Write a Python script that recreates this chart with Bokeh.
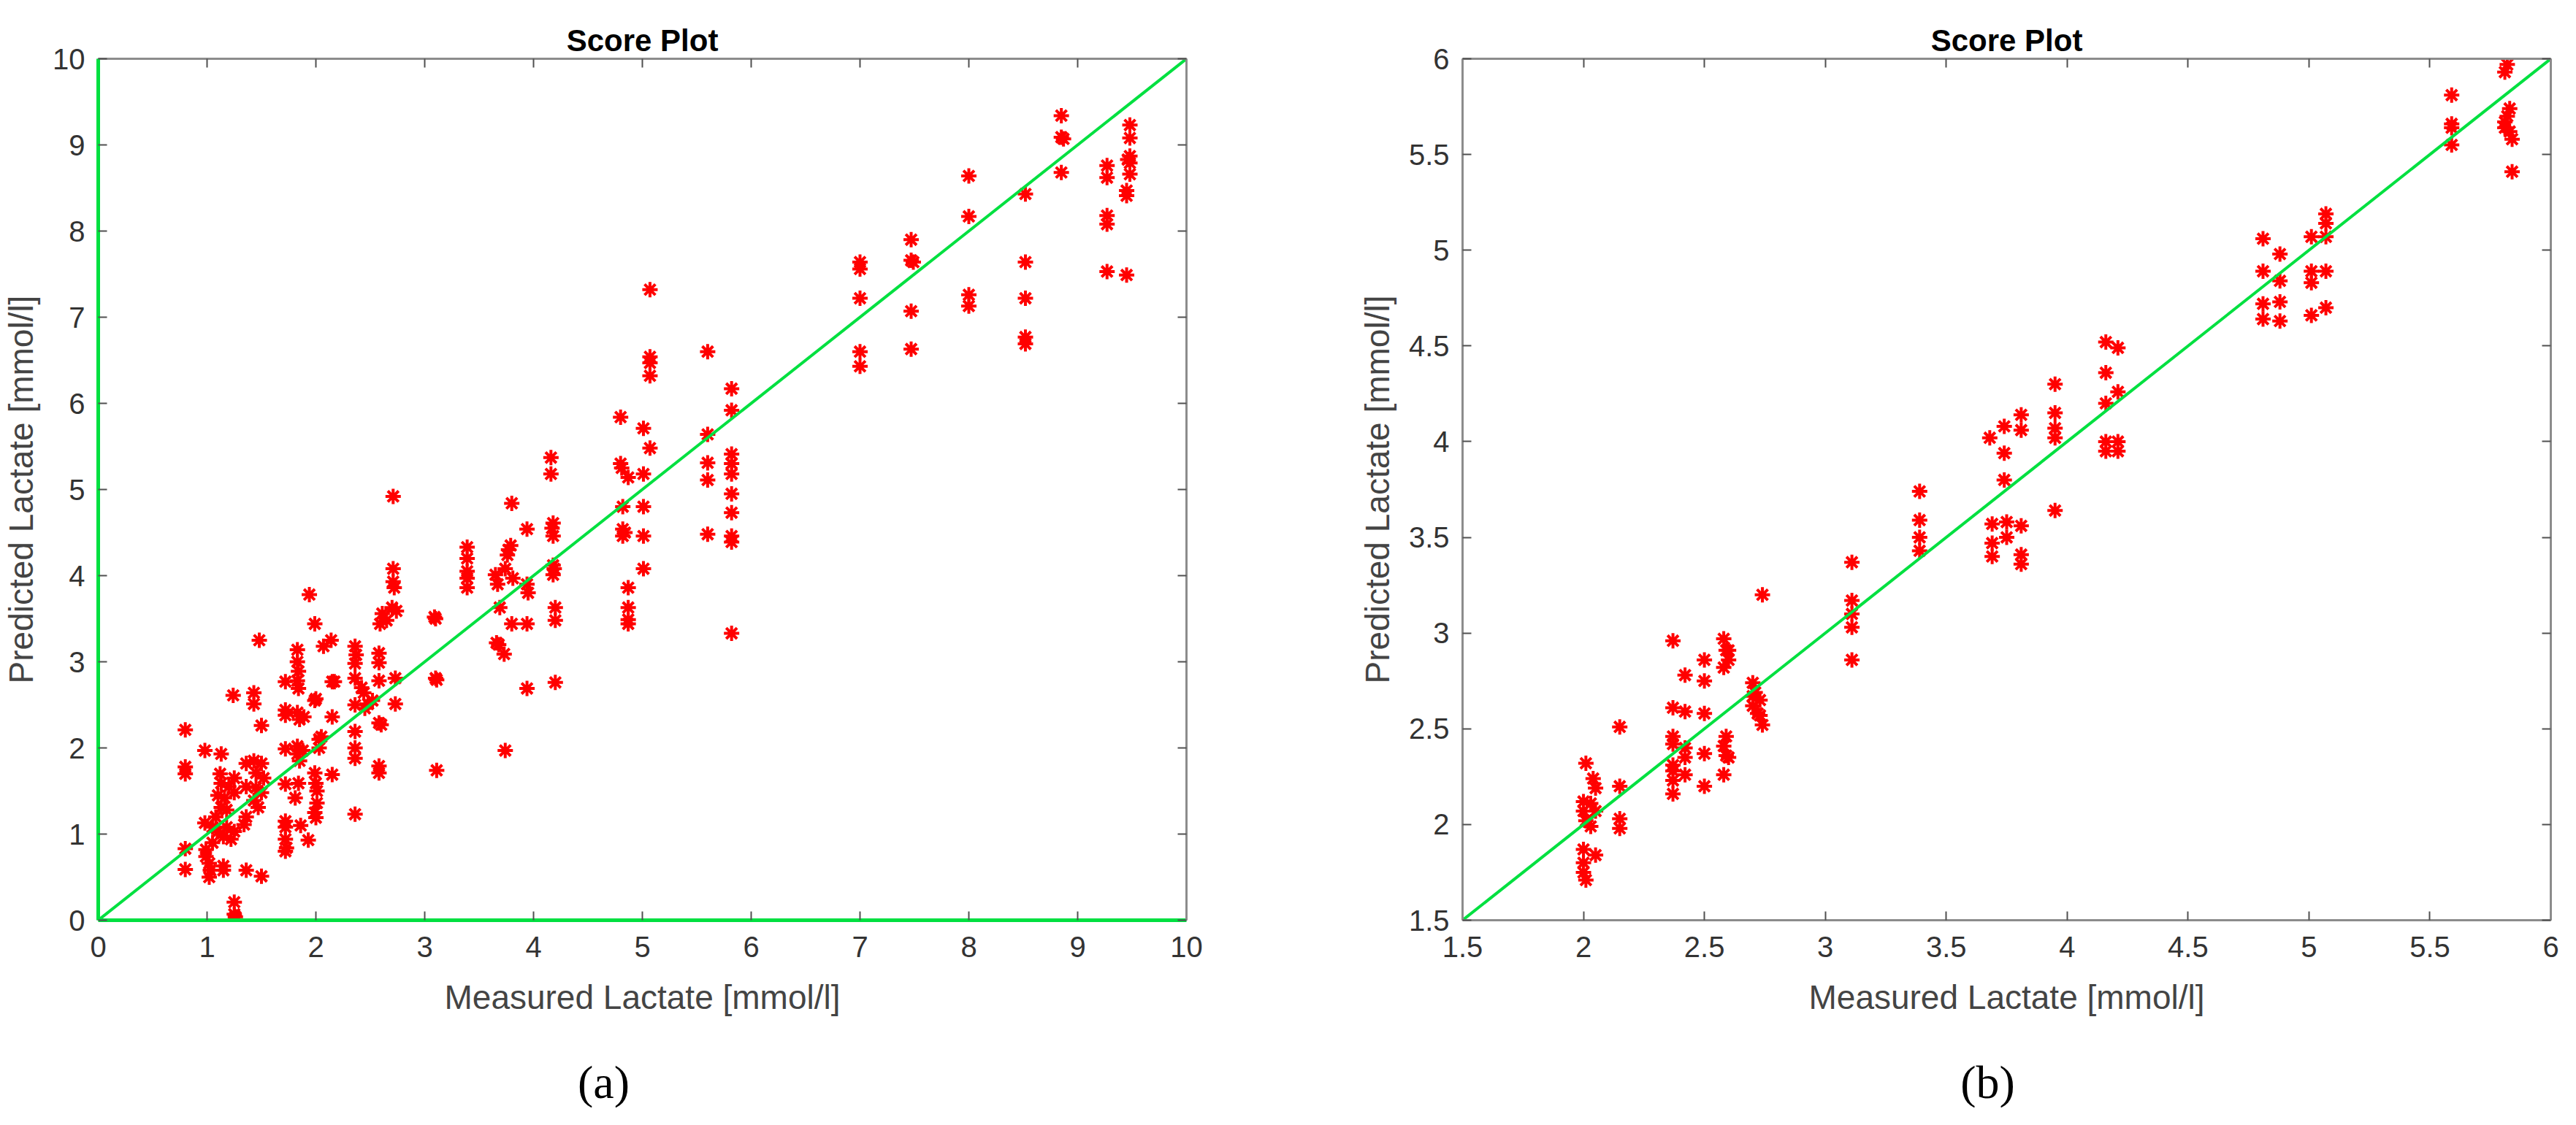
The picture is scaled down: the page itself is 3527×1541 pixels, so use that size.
from bokeh.plotting import figure
from bokeh.models import Range1d, FixedTicker, LinearAxis, Label, NumeralTickFormatter, Title
from bokeh.layouts import row, column
from bokeh.embed import file_html
from bokeh.resources import INLINE

# ---------------- data ----------------
measured_a = [
    0.80, 0.80, 0.80, 0.80, 0.80,
    0.98, 0.98, 1.13, 1.12, 1.13, 1.10, 1.13, 1.05, 1.10, 1.15, 0.99, 0.99, 1.02, 1.02,
    1.15, 1.15, 1.18, 1.18, 1.16, 1.24, 1.25, 1.25, 1.25, 1.22, 1.25, 1.25, 1.26,
    1.05, 1.08, 1.20, 1.03,
    1.43, 1.43, 1.50, 1.48, 1.36, 1.43, 1.50, 1.45, 1.52, 1.36, 1.45, 1.50, 1.43, 1.47,
    1.36, 1.34, 1.36, 1.50,
    1.72, 1.72, 1.72, 1.72, 1.72, 1.72, 1.72, 1.72, 1.72, 1.73,
    1.83, 1.83, 1.84, 1.83, 1.84, 1.83, 1.85, 1.83, 1.83, 1.85, 1.84, 1.81, 1.86, 1.89, 1.88,
    1.94, 1.99, 2.07, 2.14, 1.99, 2.03, 2.03, 1.99, 2.00, 2.01, 2.01, 1.99, 2.00, 1.93,
    2.15, 2.15, 2.15, 2.00, 2.05, 2.17,
    2.36, 2.36, 2.36, 2.36, 2.36, 2.36, 2.36, 2.36, 2.37,
    2.44, 2.48, 2.45, 2.52, 2.42,
    2.58, 2.58, 2.58, 2.58, 2.58, 2.58, 2.60, 2.59, 2.61, 2.65,
    2.71, 2.71, 2.71, 2.72, 2.70, 2.74, 2.73, 2.73,
    3.09, 3.10, 3.11, 3.10, 3.11,
    3.39, 3.39, 3.39, 3.39, 3.39,
    3.65, 3.67, 3.69, 3.68, 3.73, 3.74, 3.74, 3.76, 3.79, 3.80, 3.81, 3.80, 3.66, 3.77,
    3.94, 3.94, 3.94, 3.94, 3.95,
    4.16, 4.16, 4.18, 4.18, 4.18, 4.18, 4.20, 4.20, 4.20, 4.17, 4.19,
    4.80, 4.80, 4.82, 4.82, 4.82, 4.87, 4.87, 4.87, 4.87, 4.87, 4.81, 4.84,
    5.01, 5.01, 5.01, 5.01, 5.01, 5.07, 5.07, 5.07, 5.07, 5.07,
    5.60, 5.60, 5.60, 5.60, 5.60,
    5.82, 5.82, 5.82, 5.82, 5.82, 5.82, 5.82, 5.82, 5.82, 5.82,
    7.00, 7.00, 7.00, 7.00, 7.00,
    7.47, 7.47, 7.49, 7.47, 7.47,
    8.00, 8.00, 8.00, 8.00,
    8.52, 8.52, 8.52, 8.52, 8.52,
    8.85, 8.85, 8.85, 8.87,
    9.27, 9.27, 9.27, 9.27, 9.27,
    9.48, 9.48, 9.48, 9.48, 9.48, 9.45, 9.45, 9.45, 9.46,
]
predicted_a = [
    2.21, 1.78, 1.70, 0.83, 0.59,
    1.97, 1.13, 1.93, 1.70, 1.59, 1.45, 1.31, 1.08, 1.03, 0.97, 0.82, 0.74, 0.66, 0.50,
    0.63, 0.58, 1.08, 1.28, 1.42, 2.61, 1.65, 1.48, 1.03, 0.94, 0.21, 0.07, 0.04,
    0.90, 1.20, 1.55, 0.58,
    2.64, 2.51, 2.26, 3.25, 1.82, 1.85, 1.82, 1.71, 1.65, 1.55, 1.54, 1.48, 1.39, 1.31,
    1.20, 1.11, 0.58, 0.51,
    2.77, 2.44, 2.38, 1.99, 1.58, 1.15, 1.08, 0.94, 0.80, 0.84,
    3.14, 3.00, 2.89, 2.78, 2.69, 2.41, 2.33, 2.02, 1.93, 1.85, 1.59, 1.42, 1.10, 2.36, 1.97,
    3.78, 3.44, 3.18, 3.25, 2.55, 2.10, 2.00, 1.71, 1.59, 1.50, 1.36, 1.25, 1.19, 0.93,
    2.77, 2.36, 1.69, 2.57, 2.13, 2.77,
    2.98, 2.81, 2.50, 2.19, 2.00, 1.88, 1.23, 3.18, 3.08,
    2.64, 2.51, 2.46, 2.55, 2.70,
    2.99, 2.78, 2.29, 1.79, 1.71, 3.10, 2.27, 3.44, 3.56, 3.48,
    4.92, 4.08, 3.93, 3.86, 3.63, 3.59, 2.81, 2.51,
    3.52, 3.50, 2.79, 2.81, 1.74,
    4.33, 4.20, 4.05, 3.97, 3.86,
    4.01, 3.90, 3.63, 3.20, 3.09, 1.97, 4.08, 4.24, 4.35, 4.84, 3.97, 3.44, 3.22, 4.30,
    4.54, 3.90, 3.44, 2.69, 3.80,
    5.37, 5.18, 4.61, 4.46, 4.12, 4.01, 3.63, 3.48, 2.76, 4.55, 4.08,
    5.84, 5.30, 4.80, 4.54, 4.46, 5.14, 3.86, 3.63, 3.49, 3.44, 5.25, 4.50,
    5.71, 5.18, 4.80, 4.46, 4.08, 7.32, 6.54, 6.47, 6.32, 5.48,
    6.60, 5.64, 5.31, 5.11, 4.48,
    6.17, 5.92, 5.41, 5.30, 5.18, 4.95, 4.73, 4.46, 4.39, 3.33,
    7.64, 7.56, 7.22, 6.60, 6.43,
    7.90, 7.66, 7.64, 7.07, 6.63,
    8.64, 8.17, 7.26, 7.13,
    8.43, 7.64, 7.22, 6.77, 6.69,
    9.34, 9.09, 8.68, 9.07,
    8.76, 8.62, 8.18, 8.08, 7.53,
    9.23, 9.08, 8.87, 8.79, 8.66, 8.47, 8.41, 7.49, 8.83,
]

measured_b = [
    2.01, 2.00, 2.00, 2.01, 2.03, 2.00, 2.00, 2.00, 2.01, 2.04, 2.05, 2.05, 2.03, 2.05,
    2.15, 2.15, 2.15, 2.15,
    2.37, 2.37, 2.37, 2.37, 2.37, 2.37, 2.37, 2.37,
    2.42, 2.42, 2.42, 2.42, 2.42,
    2.50, 2.50, 2.50, 2.50, 2.50,
    2.58, 2.58, 2.59, 2.60, 2.59, 2.58, 2.59, 2.58, 2.60, 2.60,
    2.70, 2.70, 2.70, 2.71, 2.73, 2.73, 2.74, 2.74, 2.72,
    3.11, 3.11, 3.11, 3.11, 3.11,
    3.39, 3.39, 3.39, 3.39,
    3.68, 3.74, 3.74, 3.74, 3.69, 3.69, 3.69, 3.75, 3.75, 3.81, 3.81, 3.81, 3.81, 3.81,
    3.95, 3.95, 3.95, 3.95, 3.95,
    4.16, 4.16, 4.16, 4.21, 4.21, 4.16, 4.16, 4.21, 4.21,
    4.81, 4.81, 4.81, 4.81,
    4.88, 4.88, 4.88, 4.88,
    5.01, 5.01, 5.01, 5.01,
    5.07, 5.07, 5.07, 5.07, 5.07,
    5.59, 5.59, 5.59, 5.59,
    5.81, 5.82, 5.81, 5.81, 5.83, 5.82, 5.83, 5.84, 5.84,
]
predicted_b = [
    2.32, 2.12, 2.07, 2.02, 1.99, 1.87, 1.80, 1.75, 1.71, 2.24, 2.19, 2.07, 2.11, 1.84,
    2.51, 2.20, 2.03, 1.98,
    2.96, 2.61, 2.46, 2.42, 2.31, 2.28, 2.23, 2.16,
    2.78, 2.59, 2.40, 2.35, 2.26,
    2.86, 2.75, 2.58, 2.37, 2.20,
    2.97, 2.82, 2.91, 2.86, 2.46, 2.41, 2.36, 2.26, 2.35, 2.91,
    2.74, 2.67, 2.62, 2.69, 2.65, 2.57, 2.52, 3.20, 2.58,
    3.37, 3.17, 3.10, 3.03, 2.86,
    3.74, 3.59, 3.50, 3.43,
    4.02, 4.08, 3.94, 3.80, 3.57, 3.47, 3.40, 3.58, 3.50, 4.14, 4.06, 3.56, 3.41, 3.36,
    4.30, 4.15, 4.07, 4.02, 3.64,
    4.52, 4.36, 4.20, 4.49, 4.26, 4.00, 3.95, 4.00, 3.95,
    5.06, 4.89, 4.72, 4.64,
    4.98, 4.84, 4.73, 4.63,
    5.07, 4.89, 4.83, 4.66,
    5.19, 5.14, 5.07, 4.89, 4.70,
    5.81, 5.66, 5.64, 5.55,
    5.93, 5.97, 5.67, 5.64, 5.74, 5.70, 5.62, 5.58, 5.41,
]

ticks_a = [0, 1, 2, 3, 4, 5, 6, 7, 8, 9, 10]
ticks_b = [1.5, 2, 2.5, 3, 3.5, 4, 4.5, 5, 5.5, 6]

ref_a = [0, 10]          # identity line, panel (a)
zero_a = [0, 0]          # zero lines drawn in panel (a)
ref_b = [1.5, 6]         # identity line, panel (b)

title_text = "Score Plot"
x_label = "Measured Lactate [mmol/l]"
y_label = "Predicted Lactate [mmol/l]"
captions = ["(a)", "(b)"]

# ---------------- style ----------------
FONT = "Liberation Sans"
GREEN = "#00e040"
BOX = "#8c8c8c"
TICK = "#505050"
LABEL = "#333333"

W_A = 129 + 1490 + 218
W_B = 160 + 1490 + 20
H_MAIN = 80 + 1180 + 150
H_CAP = 107


def base_axis(ax, ticks):
    ax.ticker = FixedTicker(ticks=ticks)
    ax.formatter = NumeralTickFormatter(format="0.[0]")
    ax.major_tick_in = 12
    ax.major_tick_out = 0
    ax.minor_tick_line_color = None
    ax.major_tick_line_color = TICK
    ax.major_tick_line_width = 2
    ax.axis_line_color = BOX
    ax.axis_line_width = 3
    ax.major_label_text_font = FONT
    ax.major_label_text_font_size = "40px"
    ax.major_label_text_color = LABEL
    ax.axis_label_text_font = FONT
    ax.axis_label_text_font_size = "46px"
    ax.axis_label_text_font_style = "normal"
    ax.axis_label_text_color = "#444444"


def make_panel(xs, ys, ticks, rng, border_left, border_right, green_frame=False):
    p = figure(
        frame_width=1490, frame_height=1180,
        x_range=Range1d(*rng), y_range=Range1d(*rng),
        min_border_left=border_left, min_border_right=border_right,
        min_border_top=80, min_border_bottom=150,
        output_backend="svg", toolbar_location=None,
        background_fill_color="white", border_fill_color="white",
    )
    p.grid.visible = False
    p.outline_line_color = None

    p.title = Title(text=title_text, align="center", text_font=FONT,
                    text_font_size="42px", text_font_style="bold",
                    text_color="black", standoff=4)

    bottom = p.below[0]
    left = p.left[0]
    top = LinearAxis()
    right = LinearAxis()
    p.add_layout(top, "above")
    p.add_layout(right, "right")

    for ax in (bottom, left, top, right):
        base_axis(ax, ticks)

    for ax in (top, right):
        ax.major_label_text_font_size = "1px"
        ax.major_label_text_color = None
        ax.major_label_standoff = 0
        ax.axis_label_standoff = 0

    bottom.axis_label = x_label
    bottom.major_label_standoff = 22
    bottom.axis_label_standoff = 26
    left.axis_label = y_label
    left.major_label_standoff = 18
    left.axis_label_standoff = 14

    if green_frame:
        for ax in (bottom, left):
            ax.axis_line_color = GREEN
            ax.axis_line_width = 5

    p.scatter(xs, ys, marker="asterisk", size=21, line_color="#ff0000",
              line_width=4)
    return p


def make_caption(text, width, cx):
    c = figure(width=width, height=H_CAP, x_axis_type=None, y_axis_type=None,
               min_border=0, output_backend="svg", toolbar_location=None,
               outline_line_color=None, background_fill_color="white",
               border_fill_color="white")
    c.grid.visible = False
    c.add_layout(Label(x=cx, y=35, x_units="screen", y_units="screen",
                       text=text, text_font="Liberation Serif",
                       text_font_size="64px", text_color="black",
                       text_align="center", text_baseline="middle"))
    return c


pa = make_panel(measured_a, predicted_a, ticks_a, (0, 10), 129, 218, green_frame=True)
pa.line(ref_a, zero_a, line_color=GREEN, line_width=5)
pa.line(zero_a, ref_a, line_color=GREEN, line_width=5)
pa.line(ref_a, ref_a, line_color=GREEN, line_width=4)

pb = make_panel(measured_b, predicted_b, ticks_b, (1.5, 6), 160, 20)
pb.line(ref_b, ref_b, line_color=GREEN, line_width=4)

ca = make_caption(captions[0], W_A, 826)
cb = make_caption(captions[1], W_B, 884)

layout = column(row(pa, pb), row(ca, cb))
open("out.html", "w").write(file_html(layout, INLINE))
